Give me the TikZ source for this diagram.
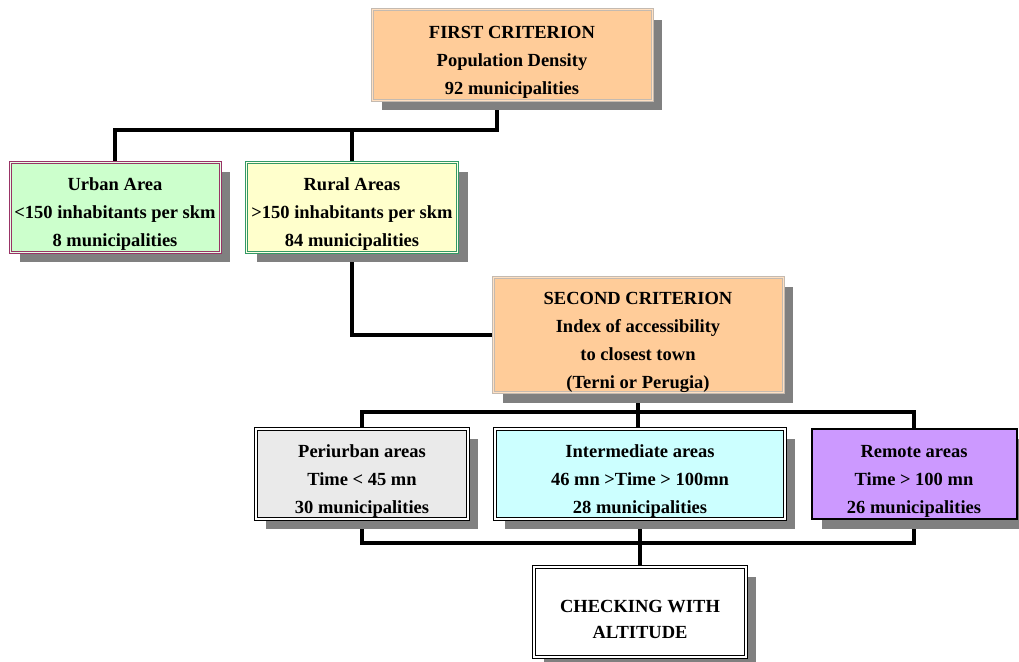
\documentclass[tikz,border=0pt]{standalone}
\usepackage{fontspec}
\setmainfont{Liberation Serif}
\usetikzlibrary{shadows,backgrounds}
\definecolor{peach}{RGB}{255,204,153}
\definecolor{peachline}{RGB}{196,186,176}
\definecolor{urbanfill}{RGB}{204,255,204}
\definecolor{urbanline}{RGB}{153,51,102}
\definecolor{ruralfill}{RGB}{255,255,204}
\definecolor{ruralline}{RGB}{51,153,102}
\definecolor{perifill}{RGB}{234,234,234}
\definecolor{interfill}{RGB}{204,255,255}
\definecolor{remotefill}{RGB}{204,153,255}
\definecolor{shadowgray}{RGB}{128,128,128}
\newcommand{\topgap}{\rule{0pt}{27pt}}

\begin{document}
\begin{tikzpicture}[x=1pt,y=-1pt,
    box/.style={rectangle,minimum height=90pt,align=center,inner sep=0pt,
      font=\fontsize{18.5}{28}\selectfont\bfseries,
      drop shadow={shadow xshift=10pt,shadow yshift=-10pt,fill=shadowgray,opacity=1}},
    critbox/.style={box,fill=peach,draw=peachline,line width=1pt,double=peach!60!white,double distance=1pt},
    blackbox/.style={box,draw=black,line width=1pt,double=white,double distance=1.2pt},
    link/.style={line width=4.5pt}]
  \useasboundingbox (0,0) rectangle (1019,661);

  % first criterion and its two areas
  \node[critbox,minimum width=280pt] (first) at (512,55) {\topgap FIRST CRITERION\\Population Density\\92 municipalities};
  \node[box,minimum width=210pt,fill=urbanfill,draw=urbanline,line width=1pt,double=urbanfill!50!white,double distance=1pt] (urban) at (115,207) {\topgap Urban Area\\<150 inhabitants per skm\\8 municipalities};
  \node[box,minimum width=211pt,fill=ruralfill,draw=ruralline,line width=1pt,double=ruralfill!50!white,double distance=1pt] (rural) at (352,207) {\topgap Rural Areas\\>150 inhabitants per skm\\84 municipalities};

  % second criterion
  \node[critbox,minimum width=290pt,minimum height=114pt] (second) at (638,335) {\topgap SECOND CRITERION\\Index of accessibility\\to closest town\\(Terni or Perugia)};

  % accessibility classes
  \node[blackbox,minimum width=212pt,fill=perifill] (peri) at (362,474) {\topgap Periurban areas\\Time < 45 mn\\30 municipalities};
  \node[blackbox,minimum width=290pt,fill=interfill] (inter) at (640,474) {\topgap Intermediate areas\\46 mn >Time > 100mn\\28 municipalities};
  \node[box,minimum width=205pt,fill=remotefill,draw=black,line width=2pt] (remote) at (914,474) {\topgap Remote areas\\Time > 100 mn\\26 municipalities};

  \node[blackbox,minimum width=212pt,fill=white,font=\fontsize{18.5}{26}\selectfont\bfseries] (check) at (640,612) {\topgap CHECKING WITH\\ALTITUDE};

  \coordinate (split1) at (497,130);
  \coordinate (split2) at (638,412);
  \coordinate (merge) at (640,543);

  \begin{scope}[on background layer]
    \draw[link] (first.south -| split1) -- (split1) -| (urban.north);
    \draw[link] (split1) -| (rural.north);
    \draw[link] (rural.south) |- (second.west);
    \draw[link] (second.south -| split2) -- (split2) -| (peri.north);
    \draw[link] (split2) -| (remote.north);
    \draw[link] (split2) -- (split2 |- inter.north);
    \draw[link] (peri.south) |- (merge) -| (remote.south);
    \draw[link] (inter.south) -- (check.north);
  \end{scope}
\end{tikzpicture}
\end{document}
